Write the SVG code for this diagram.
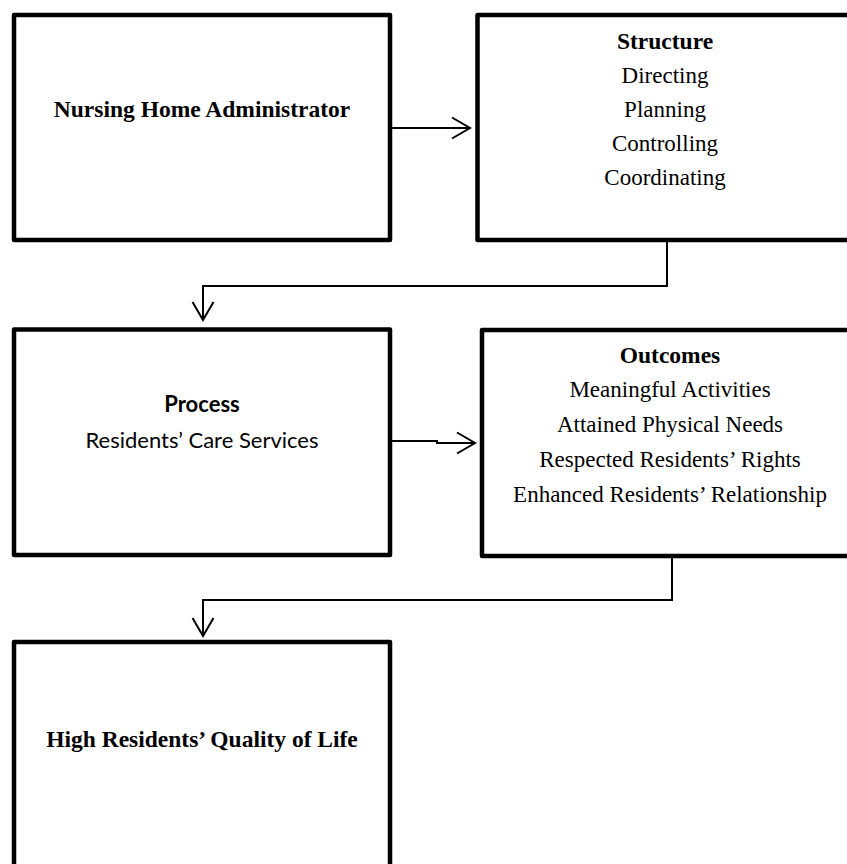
<svg xmlns="http://www.w3.org/2000/svg" width="847" height="864" viewBox="0 0 847 864">
<style>
.box{fill:#fff;stroke:#000;stroke-width:4.5;stroke-linejoin:round}
.conn{fill:none;stroke:#000;stroke-width:2}
.tb{font-family:"Liberation Serif","Times New Roman",serif;font-weight:bold;font-size:23.5px;text-anchor:middle;fill:#000}
.tr{font-family:"Liberation Serif","Times New Roman",serif;font-size:23px;text-anchor:middle;fill:#000}
.sb{font-family:Lato,"Liberation Sans",sans-serif;font-weight:bold;font-size:22px;text-anchor:middle;fill:#000}
.sr{font-family:Lato,"Liberation Sans",sans-serif;font-size:22px;text-anchor:middle;fill:#000}
</style>
<defs>
<marker id="chev" markerUnits="userSpaceOnUse" markerWidth="24" markerHeight="26" refX="20" refY="12" orient="auto" viewBox="0 0 24 26">
<path d="M2,1.5 L20,12 L2,22.5" fill="none" stroke="#000" stroke-width="2"/>
</marker>
</defs>
<rect width="847" height="864" fill="#fff"/>
<g id="connectors">
<path class="conn" d="M392,128 H470" marker-end="url(#chev)"/>
<path class="conn" d="M667,242 V286 H203 V320" marker-end="url(#chev)"/>
<path class="conn" d="M392,441 H437 V443 H475" marker-end="url(#chev)"/>
<path class="conn" d="M672,558 V600 H203 V636" marker-end="url(#chev)"/>
</g>
<g id="administrator">
<rect class="box" x="14" y="15" width="376" height="225"/>
<text class="tb" x="202" y="117">Nursing Home Administrator</text>
</g>
<g id="structure">
<rect class="box" x="477.5" y="15" width="380" height="225"/>
<text class="tb" x="665" y="49">Structure</text>
<text class="tr" x="665" y="83">Directing</text>
<text class="tr" x="665" y="117">Planning</text>
<text class="tr" x="665" y="151">Controlling</text>
<text class="tr" x="665" y="185">Coordinating</text>
</g>
<g id="process">
<rect class="box" x="14" y="329.5" width="376" height="225.5"/>
<text class="sb" x="202" y="412">Process</text>
<text class="sr" x="202" y="448">Residents’ Care Services</text>
</g>
<g id="outcomes">
<rect class="box" x="482" y="330" width="380" height="226"/>
<text class="tb" x="670" y="363">Outcomes</text>
<text class="tr" x="670" y="397">Meaningful  Activities</text>
<text class="tr" x="670" y="432">Attained  Physical Needs</text>
<text class="tr" x="670" y="467">Respected Residents’ Rights</text>
<text class="tr" x="670" y="502">Enhanced Residents’ Relationship</text>
</g>
<g id="quality">
<rect class="box" x="14" y="642" width="376" height="240"/>
<text class="tb" x="202" y="747">High Residents’ Quality of Life</text>
</g>
</svg>
